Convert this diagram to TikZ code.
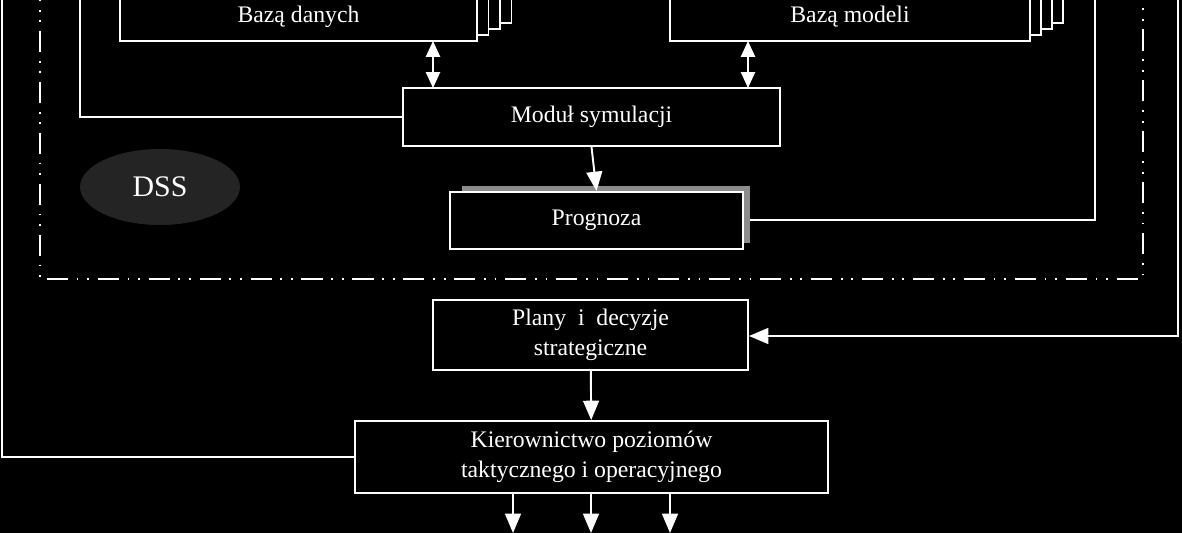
\documentclass[tikz,border=0pt]{standalone}
\usepackage{fontspec}
\setmainfont{Liberation Serif}
\usetikzlibrary{arrows.meta,positioning,shapes.geometric}

\tikzset{
  wire/.style={white, line width=1.1pt},
  flow/.style={wire, -{Triangle[length=11pt,width=9pt]}},
  both/.style={wire, {Triangle[length=9pt,width=8pt]}-{Triangle[length=9pt,width=8pt]}},
  block/.style={draw=white, line width=1.1pt, fill=black, text=white, align=center, font=\fontsize{13.5}{17}\selectfont},
  frame/.style={white, line width=1pt, dash pattern=on 12pt off 5pt on 1pt off 5pt on 1pt off 5pt}
}

\begin{document}
\begin{tikzpicture}[x=0.02cm, y=-0.02cm]
  % background and clipping to the visible area
  \fill[black] (0,0) rectangle (1182,533);
  \useasboundingbox (0,0) rectangle (1182,533);
  \clip (0,0) rectangle (1182,533);

  % dash-dot frame of the DSS
  \draw[frame] (40,-20) -- (40,279) -- (1143,279) -- (1143,-20);

  % stacked base boxes
  \foreach \k in {3,2,1} {
    \draw[white, line width=1pt, fill=black] (120+11.5*\k,-40-6*\k) rectangle (477+11.5*\k,41-6*\k);
    \draw[white, line width=1pt, fill=black] (670+11*\k,-40-6*\k) rectangle (1030+11*\k,41-6*\k);
  }
  \node[block, minimum width=357*0.02cm, minimum height=81*0.02cm] (dane) at (298.5,0.5) {\raisebox{4.5ex}{}Bazą danych};
  \node[block, minimum width=360*0.02cm, minimum height=81*0.02cm] (modele) at (850,0.5) {\raisebox{4.5ex}{}Bazą modeli};

  % simulation module and forecast
  \node[block, minimum width=377*0.02cm, minimum height=58*0.02cm] (modul) at (591.5,117) {Moduł symulacji};
  \fill[gray!90] (462,186) rectangle (750,243);
  \node[block, minimum width=293*0.02cm, minimum height=57*0.02cm] (prognoza) at (596.5,220.5) {Prognoza};

  \node[ellipse, fill=black!86, minimum width=160*0.02cm, minimum height=76*0.02cm,
        text=white, font=\fontsize{17}{20}\selectfont] (dss) at (160,187) {DSS};

  % decisions and management
  \node[block, minimum width=315*0.02cm, minimum height=70*0.02cm] (plany) at (590.5,335) {Plany \ i \ decyzje\\strategiczne};
  \node[block, minimum width=473*0.02cm, minimum height=72*0.02cm] (kier) at (591.5,457) {Kierownictwo poziomów\\taktycznego i operacyjnego};

  % connectors
  \draw[both] (433,41) -- (433,88);
  \draw[both] (748,41) -- (748,88);
  \draw[flow] (modul.south) -- (prognoza.north);
  \draw[flow] (plany) -- (kier);
  \coordinate (prbend) at (1095,220);
  \draw[wire] (750,220) -- (prbend) -- (1095,-20);
  \draw[wire] (modul.west) -- (80,117) -- (80,-20);
  \draw[wire] (kier.west) -- (2,457) -- (2,-20);
  \draw[flow] (1178,-20) -- (1178,336) -- (plany.east |- 0,336);
  \foreach \xx in {513,591,670}
    \draw[flow] (\xx,493) -- (\xx,533);
\end{tikzpicture}
\end{document}
